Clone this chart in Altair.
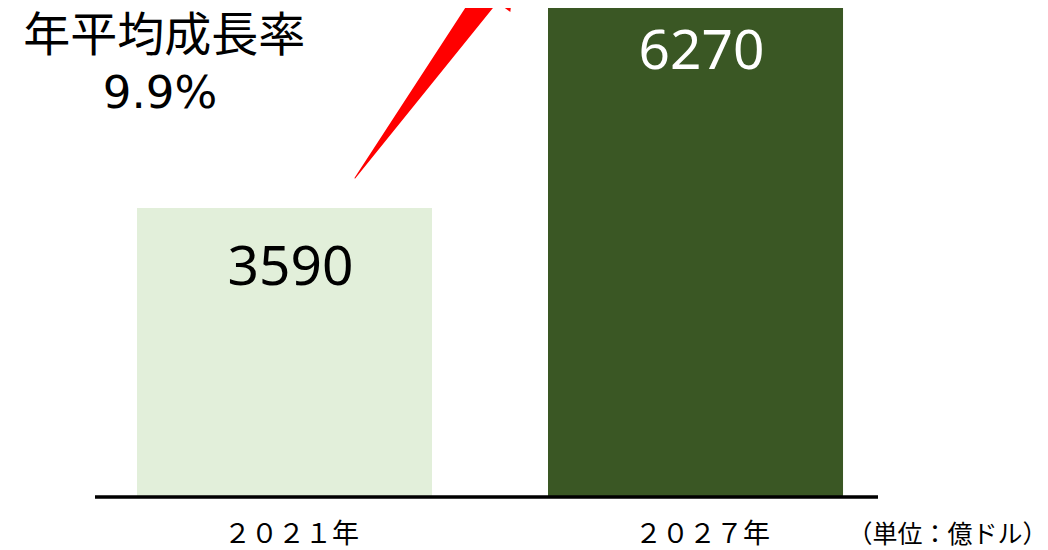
import altair as alt
import pandas as pd

# --- data ---
years = ["２０２１年", "２０２７年"]
values = [3590, 6270]
bar_colors = ["#E2EFDA", "#3A5724"]
label_colors = ["#000000", "#FFFFFF"]

growth_title = "年平均成長率"
growth_value = "9.9%"
unit_note = "（単位：億ドル）"

# annotation geometry (x in category-index units, y in value units)
arrow_x = [0.1715, 0.4942]
arrow_y = [3963, 6230]
arrow_w = [0, 24]
head_x = [0.529]
head_y = [6473]
note_texts = [growth_title, growth_value, unit_note]
note_x = [-0.2929, -0.3029, 1.613]
note_y = [5714, 5006, -472]
note_size = [47, 45, 25]
note_font = ["Noto Sans CJK JP", "DejaVu Sans", "Noto Sans CJK JP"]

X_DOMAIN = [-0.4611, 1.4440]
HALF_BAR = 0.3589
Y_MAX = 6074.5
W, H = 783, 489

bars_df = pd.DataFrame({"idx": list(range(len(years))), "year": years,
                        "value": values, "color": bar_colors,
                        "lcolor": label_colors})
arrow_df = pd.DataFrame({"ax": arrow_x, "ay": arrow_y, "aw": arrow_w})
head_df = pd.DataFrame({"ax": head_x, "ay": head_y})

xscale = alt.Scale(domain=X_DOMAIN, nice=False, zero=False)
yscale = alt.Scale(domain=[0, Y_MAX], nice=False, zero=True)

base = alt.Chart(bars_df).transform_calculate(
    x0=f"datum.idx - {HALF_BAR}", x1=f"datum.idx + {HALF_BAR}"
)

bars = base.mark_rect().encode(
    x=alt.X("x0:Q", scale=xscale, axis=None),
    x2="x1:Q",
    y=alt.Y("value:Q", scale=yscale, axis=None),
    y2=alt.Y2(datum=0),
    color=alt.Color("color:N", scale=None),
)

bar_labels = base.mark_text(font="Noto Sans", fontSize=55, baseline="middle",
                            dy=60, dx=6).encode(
    x=alt.X("idx:Q", scale=xscale, axis=None),
    y=alt.Y("value:Q", scale=yscale, axis=None),
    text=alt.Text("value:Q", format="d"),
    color=alt.Color("lcolor:N", scale=None),
)

baseline = base.mark_rule(color="#000000", strokeWidth=3).encode(
    x=alt.value(0), x2=alt.value(W),
    y=alt.Y(datum=0, scale=yscale, axis=None),
)

year_labels = base.mark_text(font="Noto Sans CJK JP", fontSize=27,
                             baseline="middle", align="center", dx=7,
                             color="#000000").encode(
    x=alt.X("idx:Q", scale=xscale, axis=None),
    y=alt.value(H + 38),
    text="year:N",
)

arrow = alt.Chart(arrow_df).mark_trail(color="#FF0000").encode(
    x=alt.X("ax:Q", scale=xscale, axis=None),
    y=alt.Y("ay:Q", scale=yscale, axis=None),
    size=alt.Size("aw:Q", scale=alt.Scale(domain=[0, 24], range=[0, 24]),
                  legend=None),
)

head = alt.Chart(head_df).mark_point(shape="triangle-up", filled=True, opacity=1,
                                     color="#FF0000", size=3136, angle=36).encode(
    x=alt.X("ax:Q", scale=xscale, axis=None),
    y=alt.Y("ay:Q", scale=yscale, axis=None),
)

note_layers = []
for t, nx, ny, fs, ff in zip(note_texts, note_x, note_y, note_size, note_font):
    df = pd.DataFrame({"t": [t], "ax": [nx], "ay": [ny]})
    note_layers.append(
        alt.Chart(df).mark_text(baseline="middle", align="center", color="#000000",
                                font=ff, fontSize=fs).encode(
            x=alt.X("ax:Q", scale=xscale, axis=None),
            y=alt.Y("ay:Q", scale=yscale, axis=None),
            text="t:N",
        )
    )

chart = alt.layer(bars, bar_labels, baseline, year_labels, arrow, head,
                  *note_layers).properties(
    width=W, height=H,
    autosize=alt.AutoSizeParams(type="none"),
    padding={"left": 87, "top": 0, "right": 160, "bottom": 52},
).configure_view(stroke=None)

chart.save("out.html", embed_options={"renderer": "svg", "actions": False})
